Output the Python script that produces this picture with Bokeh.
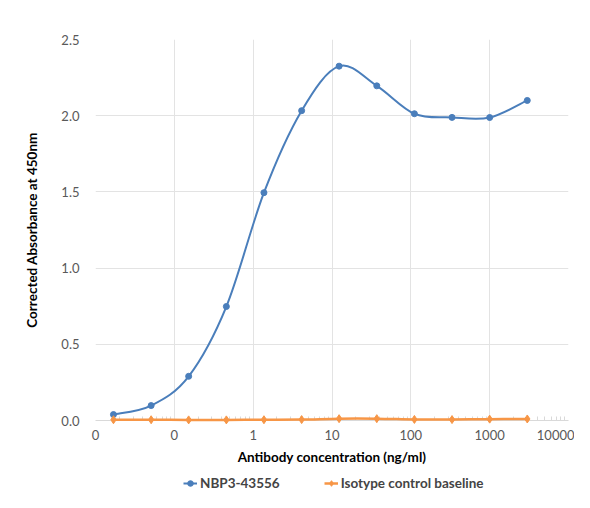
from bokeh.plotting import figure
from bokeh.models import FixedTicker, Legend, LegendItem, ColumnDataSource, Range1d
from bokeh.layouts import column
from bokeh.embed import file_html
from bokeh.resources import INLINE
import numpy as np

# antibody concentration (ng/ml), 3-fold dilution series
conc = [0.0169, 0.0508, 0.152, 0.457, 1.37, 4.12, 12.3, 37.0, 111.0, 333.0, 1000.0, 3000.0]
nbp3 = [0.039, 0.098, 0.290, 0.748, 1.495, 2.033, 2.325, 2.196, 2.013, 1.989, 1.988, 2.100]
isotype = [0.005, 0.005, 0.004, 0.004, 0.005, 0.006, 0.012, 0.012, 0.007, 0.006, 0.009, 0.010]

x_ticks = [0.01, 0.1, 1, 10, 100, 1000, 10000]
x_tick_labels = ["0", "0", "1", "10", "100", "1000", "10000"]
y_ticks = [0.0, 0.5, 1.0, 1.5, 2.0, 2.5]

BLUE = "#4a7ebb"
ORANGE = "#f79646"
FONT = "Lato"


def smooth_source(xs, ys):
    # Catmull-Rom style control points (like Excel "smoothed line"), in log-x space
    lx = np.log10(xs)
    y = np.asarray(ys, dtype=float)
    n = len(lx)
    d = dict(x0=[], y0=[], x1=[], y1=[], cx0=[], cy0=[], cx1=[], cy1=[])
    for i in range(n - 1):
        a = max(i - 1, 0)
        b = min(i + 2, n - 1)
        c0x = lx[i] + (lx[i + 1] - lx[a]) / 6
        c0y = y[i] + (y[i + 1] - y[a]) / 6
        c1x = lx[i + 1] - (lx[b] - lx[i]) / 6
        c1y = y[i + 1] - (y[b] - y[i]) / 6
        d["x0"].append(10 ** lx[i]); d["y0"].append(y[i])
        d["x1"].append(10 ** lx[i + 1]); d["y1"].append(y[i + 1])
        d["cx0"].append(10 ** c0x); d["cy0"].append(c0y)
        d["cx1"].append(10 ** c1x); d["cy1"].append(c1y)
    return ColumnDataSource(d)


p = figure(width=574, height=474, x_axis_type="log", x_range=(0.01, 10000), y_range=(0, 2.5),
           output_backend="svg", toolbar_location=None,
           min_border_left=95, min_border_right=6, min_border_top=39, min_border_bottom=54)
p.outline_line_color = None

minor = [m * t for t in x_ticks[:-1] for m in range(2, 10)]
p.xaxis.ticker = FixedTicker(ticks=x_ticks, minor_ticks=minor)
p.xaxis.major_label_overrides = {t: s for t, s in zip(x_ticks, x_tick_labels)}
p.yaxis.ticker = FixedTicker(ticks=y_ticks)
p.yaxis.major_label_overrides = {t: f"{t:.1f}" for t in y_ticks}

p.xgrid.ticker = FixedTicker(ticks=x_ticks)
p.grid.grid_line_color = "#e3e3e3"
p.grid.grid_line_width = 1

for ax in (p.xaxis, p.yaxis):
    ax.major_label_text_font = FONT
    ax.major_label_text_font_size = "13px"
    ax.major_label_text_color = "#595959"
    ax.axis_label_text_font = FONT
    ax.axis_label_text_font_size = "13.5px"
    ax.axis_label_text_font_style = "bold"
    ax.axis_label_text_color = "#000000"

p.xaxis.axis_label = "Antibody concentration (ng/ml)"
p.yaxis.axis_label = "Corrected Absorbance at 450nm"
p.xaxis.axis_line_color = "#d9d9d9"
p.xaxis.major_tick_in = 0
p.xaxis.major_tick_out = 0
p.xaxis.minor_tick_in = 4
p.xaxis.minor_tick_out = 0
p.xaxis.minor_tick_line_color = "#d9d9d9"
p.xaxis.major_label_standoff = 9
p.xaxis.axis_label_standoff = 6
p.yaxis.axis_line_color = None
p.yaxis.major_tick_line_color = None
p.yaxis.minor_tick_line_color = None
p.yaxis.major_label_standoff = 10
p.yaxis.axis_label_standoff = 18

p.bezier(x0="x0", y0="y0", x1="x1", y1="y1", cx0="cx0", cy0="cy0", cx1="cx1", cy1="cy1",
         source=smooth_source(conc, nbp3), line_color=BLUE, line_width=2, level="overlay")
p.scatter(conc, nbp3, marker="circle", size=6, fill_color=BLUE, line_color=BLUE, level="overlay")
p.bezier(x0="x0", y0="y0", x1="x1", y1="y1", cx0="cx0", cy0="cy0", cx1="cx1", cy1="cy1",
         source=smooth_source(conc, isotype), line_color=ORANGE, line_width=2.5, level="overlay")
p.scatter(conc, isotype, marker="diamond", size=8, fill_color=ORANGE, line_color=ORANGE, level="overlay")

# legend strip below the chart (series drawn out of view, only legend glyphs show)
leg = figure(width=574, height=18, x_axis_type="log", x_range=Range1d(1e5, 1e6),
             y_range=Range1d(10, 11), output_backend="svg", toolbar_location=None,
             min_border=0)
leg.axis.visible = False
leg.grid.visible = False
leg.outline_line_color = None
lb_line = leg.line(conc, nbp3, line_color=BLUE, line_width=2)
lb_pts = leg.scatter(conc, nbp3, marker="circle", size=6, fill_color=BLUE, line_color=BLUE)
lo_line = leg.line(conc, isotype, line_color=ORANGE, line_width=2.5)
lo_pts = leg.scatter(conc, isotype, marker="diamond", size=8, fill_color=ORANGE, line_color=ORANGE)

legend = Legend(items=[LegendItem(label="NBP3-43556", renderers=[lb_line, lb_pts]),
                       LegendItem(label="Isotype control baseline", renderers=[lo_line, lo_pts])],
                orientation="horizontal", location="left")
legend.border_line_color = None
legend.background_fill_alpha = 0
legend.label_text_font = FONT
legend.label_text_font_size = "13.5px"
legend.label_text_font_style = "bold"
legend.glyph_width = 14
legend.glyph_height = 16
legend.label_standoff = 3
legend.spacing = 44
legend.padding = 0
legend.margin = 88
leg.add_layout(legend)

open("out.html", "w").write(file_html(column(p, leg), INLINE))
